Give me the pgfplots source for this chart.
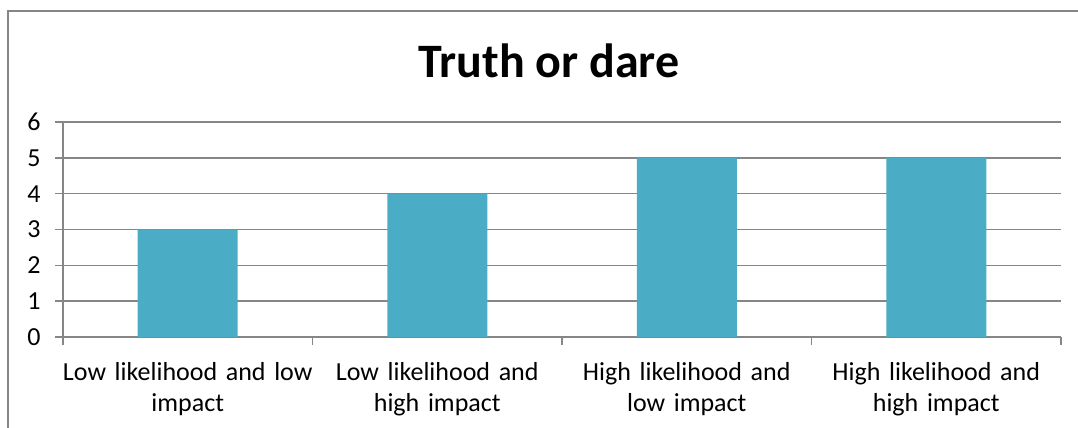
\documentclass[border=0pt]{standalone}
\usepackage{pgfplots}
\pgfplotsset{compat=1.18}
\usepackage{fontspec}
\setmainfont{Carlito}
\definecolor{barc}{HTML}{4BACC6}
\definecolor{axc}{HTML}{868686}
\begin{document}
\begin{tikzpicture}
\path[use as bounding box] (0,0) rectangle (539pt,214pt);
\draw[axc, line width=1pt] (4pt,0) -- (4pt,208.5pt) -- (540pt,208.5pt);
\node[anchor=base, inner sep=0pt, font=\fontsize{24}{29}\selectfont\bfseries] at (274.5pt,175pt) {Truth or dare};
\begin{axis}[at={(31.5pt,45.5pt)}, anchor=south west, scale only axis,
  width=499pt, height=107.5pt,
  xmin=-0.5, xmax=3.5, ymin=0, ymax=6, ytick={0,1,2,3,4,5,6},
  axis x line*=bottom, axis y line*=left,
  axis line style={axc, line width=0.75pt, -},
  ymajorgrids, grid style={axc, line width=0.75pt},
  tick align=outside, major tick length=4pt,
  tick style={axc, line width=0.75pt},
  xtick={-0.5,0.5,1.5,2.5,3.5}, xticklabels={},
  extra x ticks={0,1,2,3},
  extra x tick labels={Low likelihood and low\\impact, Low likelihood and\\high impact, High likelihood and\\low impact, High likelihood and\\high impact},
  extra x tick style={major tick length=0pt, grid=none},
  xticklabel style={inner sep=0pt, anchor=north, yshift=-12.5pt, text width=130pt, align=center, font=\fontsize{13}{15.5}\selectfont},
  yticklabel style={inner sep=0pt, xshift=-7pt, font=\fontsize{13}{15.5}\selectfont},
  /pgf/number format/assume math mode=true,
  ybar, bar width=50pt, bar shift=0pt,
]
\addplot[fill=barc, draw=none] coordinates {(0,3) (1,4) (2,5) (3,5)};
\end{axis}
\end{tikzpicture}
\end{document}
